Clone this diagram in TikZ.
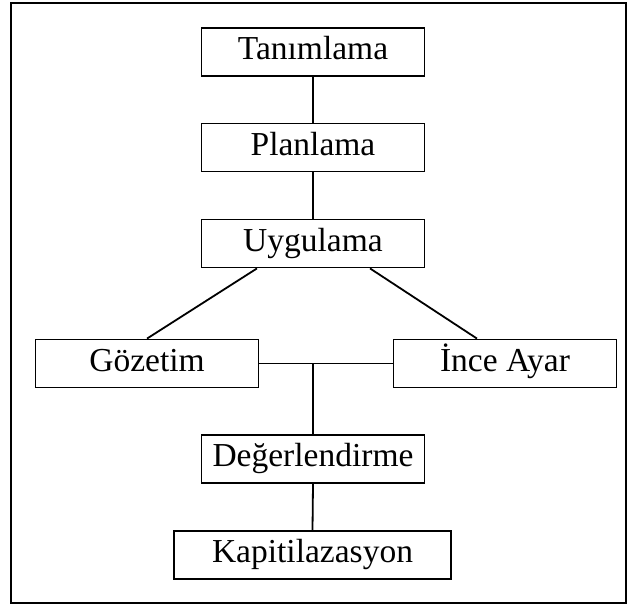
\documentclass[tikz,border=0pt]{standalone}
\usepackage{fontspec}
\setmainfont{Liberation Serif}
\usetikzlibrary{calc}

\begin{document}
\begin{tikzpicture}[x=1pt,y=-1pt]
\tikzstyle{every node}=[font=\fontsize{33.5}{39}\selectfont]
\tikzstyle{stage}=[draw, line width=1.8pt, inner sep=0pt, minimum width=223pt, minimum height=48pt, text height=22pt, text depth=7pt]
\tikzstyle{link}=[line width=1.8pt]
\useasboundingbox (0,0) rectangle (631,608);
\draw [line width=2pt] (11,3) rectangle (626,603);

\node [stage] (Tanimlama) at (313,52) {Tanımlama};
\node [stage] (Planlama) at (313,147.5) {Planlama};
\node [stage] (Uygulama) at (313,243.5) {Uygulama};
\node [stage] (Gozetim) at (147,363.5) {Gözetim};
\node [stage] (InceAyar) at (505,363.5) {İnce Ayar};
\node [stage] (Degerlendirme) at (313,459) {Değerlendirme};
\node [stage, minimum width=277pt] (Kapitilazasyon) at (312.5,555) {Kapitilazasyon};

\draw [link] (Tanimlama.south) -- (Planlama.north);
\draw [link] (Planlama.south) -- (Uygulama.north);
\draw [link] ([xshift=-56pt]Uygulama.south) -- (Gozetim.north);
\draw [link] ([xshift=57pt]Uygulama.south) -- ([xshift=-28pt]InceAyar.north);
\draw [link] (Gozetim.east) -- (InceAyar.west);
\draw [link] (Gozetim.east -| Degerlendirme.north) -- (Degerlendirme.north);
\draw [link] (Degerlendirme.south) -- (Kapitilazasyon.north);
\end{tikzpicture}
\end{document}
